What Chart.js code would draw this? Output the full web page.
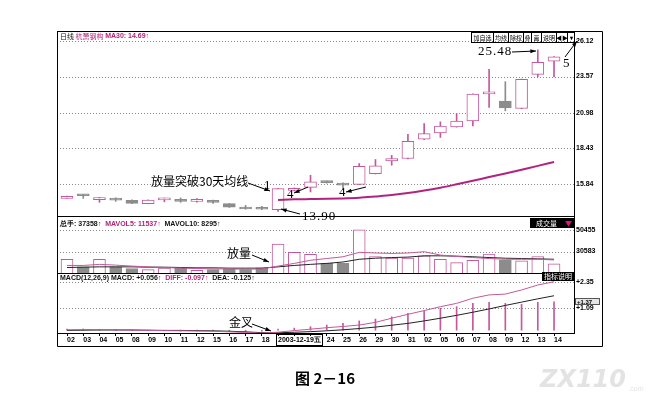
<!DOCTYPE html>
<html>
<head>
<meta charset="utf-8">
<script src="https://cdn.jsdelivr.net/npm/chart.js@4.4.0/dist/chart.umd.min.js"></script>
<style>
  html, body { margin: 0; padding: 0; background: #fff; }
  #box { position: relative; width: 651px; height: 404px; }
</style>
</head>
<body>
<div id="box"><canvas id="kline"></canvas></div>
<script>
// 交易日（横轴）
var dates = ['02','03','04','05','08','09','10','11','12','15','16','17','18','2003-12-19五','22','23','24','25','26','29','30','31','02','05','06','07','08','09','12','13','14'];

// K线
var opens  = [14.83,15.04,14.74,14.81,14.69,14.45,14.72,14.76,14.62,14.64,14.45,14.10,14.08,14.02,15.40,15.62,16.00,15.93,15.84,16.61,17.52,17.69,19.07,19.53,19.96,20.39,22.33,21.81,21.28,23.73,24.68];
var closes = [14.98,15.02,14.77,14.71,14.47,14.71,14.77,14.62,14.75,14.54,14.20,14.07,14.05,15.53,15.55,16.02,15.96,15.78,17.13,17.16,17.69,18.93,19.48,20.01,20.37,22.31,22.38,21.32,23.37,24.59,24.99];
var highs  = [14.99,15.12,14.91,14.87,14.72,14.72,14.85,14.86,14.82,14.70,14.47,14.33,14.26,15.55,15.58,16.49,16.08,15.95,17.33,17.62,17.92,19.43,20.20,20.32,20.92,22.33,24.09,23.20,23.39,25.48,25.01];
var lows   = [14.82,14.83,14.55,14.62,14.45,14.44,14.58,14.55,14.55,14.47,14.18,14.05,14.02,13.90,15.36,15.29,15.92,15.46,15.82,16.58,17.21,17.66,19.05,19.20,19.94,20.03,21.35,21.11,21.26,23.55,23.55];
var ma30   = [null,null,null,null,null,null,null,null,null,null,null,null,null,14.72,14.76,14.78,14.80,14.83,14.88,14.97,15.07,15.21,15.39,15.60,15.84,16.09,16.36,16.62,16.89,17.16,17.44];

// 成交量
var volumes = [23400,16400,23400,16400,14900,13900,15200,15200,13300,13900,14500,13900,15500,37358,29800,27900,19600,19600,50500,26000,24400,24400,26600,23400,20300,22500,28200,22500,21900,26000,19300];
var mavol5  = [17700,17700,18700,18000,17100,16400,15800,15200,14900,14500,14500,14200,14500,17100,19600,22500,24100,25700,29800,29200,28800,29200,30400,27300,26000,25000,24100,23400,23400,23400,22800];
var mavol10 = [15800,16100,16400,16400,16400,16100,16100,15800,15500,15500,15200,15200,15200,16400,17700,18700,19600,20900,23400,24400,25000,25400,26600,26600,26300,25700,25000,24400,24100,23800,23400];

// MACD(12,26,9)
var diff = [0.02,0.03,0.03,0.02,0.00,-0.01,-0.02,-0.03,-0.04,-0.05,-0.08,-0.11,-0.14,-0.097,-0.02,0.05,0.12,0.18,0.25,0.38,0.58,0.77,0.95,1.14,1.30,1.55,1.71,1.75,1.95,2.19,2.35];
var dea  = [-0.01,0.00,0.01,0.01,0.01,0.00,-0.01,-0.01,-0.02,-0.03,-0.05,-0.08,-0.12,-0.125,-0.10,-0.07,-0.03,0.02,0.08,0.15,0.24,0.33,0.45,0.58,0.72,0.87,1.03,1.20,1.36,1.52,1.67];
var macd = [0.05,0.06,0.04,0.03,-0.02,-0.02,-0.02,-0.04,-0.04,-0.04,-0.06,-0.08,-0.05,0.056,0.10,0.17,0.25,0.33,0.45,0.54,0.65,0.82,0.93,1.06,1.14,1.30,1.35,1.30,1.26,1.35,1.37];

// 右侧刻度
var priceTicks = [15.84, 18.43, 20.98, 23.57, 26.12];
var volTicks = [30583, 50455];
var macdTicks = [1.09, 2.35];

var PINK = '#c4589c', MAG = '#b2237d', GRAY = '#8c8c8c', TXT = '#111';
var yFont = { family: '"Liberation Sans", Arial, sans-serif', size: 7, weight: 'bold' };
var xFont = { family: '"Liberation Sans", Arial, sans-serif', size: 7, weight: 'bold' };
var cjk = '"Noto Sans CJK SC", sans-serif';

function isUp(i) { return closes[i] >= opens[i]; }

var wickData = dates.map(function (d, i) { return { x: i, y: [lows[i], highs[i]] }; });
var bodyData = dates.map(function (d, i) { return { x: i, y: [Math.min(opens[i], closes[i]), Math.max(opens[i], closes[i])] }; });
var upColor = dates.map(function (d, i) { return isUp(i) ? PINK : GRAY; });
var upFill = dates.map(function (d, i) { return isUp(i) ? '#fff' : GRAY; });
function pts(arr) { return arr.map(function (v, i) { return { x: i, y: v }; }); }

function arrow(ctx, x1, y1, x2, y2) {
  var ang = Math.atan2(y2 - y1, x2 - x1), L = 6;
  ctx.beginPath();
  ctx.moveTo(x1, y1); ctx.lineTo(x2, y2); ctx.stroke();
  ctx.beginPath();
  ctx.moveTo(x2, y2);
  ctx.lineTo(x2 - L * Math.cos(ang - 0.35), y2 - L * Math.sin(ang - 0.35));
  ctx.lineTo(x2 - L * Math.cos(ang + 0.35), y2 - L * Math.sin(ang + 0.35));
  ctx.closePath(); ctx.fill();
}

function run(ctx, x, y, parts) {
  parts.forEach(function (p) {
    ctx.fillStyle = p[1];
    ctx.font = p[2];
    ctx.fillText(p[0], x, y);
    x += ctx.measureText(p[0]).width;
  });
}

var extras = {
  id: 'extras',
  beforeDatasetsDraw: function (chart) {
    var ctx = chart.ctx, a = chart.chartArea;
    ctx.save();
    ctx.strokeStyle = '#8a8a8a'; ctx.lineWidth = 1; ctx.setLineDash([1, 2]);
    [['yP', priceTicks], ['yV', volTicks], ['yM', macdTicks]].forEach(function (p) {
      var s = chart.scales[p[0]];
      p[1].forEach(function (v) {
        var y = Math.round(s.getPixelForValue(v)) + 0.5;
        ctx.beginPath(); ctx.moveTo(a.left, y); ctx.lineTo(a.right, y); ctx.stroke();
      });
    });
    ctx.restore();
  },
  afterDraw: function (chart) {
    var ctx = chart.ctx, a = chart.chartArea, sc = chart.scales;
    var outerR = 602.5, outerB = 346.5;
    ctx.save();
    // 边框
    ctx.strokeStyle = '#000'; ctx.lineWidth = 1;
    ctx.strokeRect(a.left + 0.5, a.top + 0.5, a.right - a.left, a.bottom - a.top);
    ctx.beginPath();
    ctx.moveTo(a.left + 0.5, a.bottom); ctx.lineTo(a.left + 0.5, outerB);
    ctx.lineTo(outerR, outerB); ctx.lineTo(outerR, a.top + 0.5); ctx.lineTo(a.right, a.top + 0.5);
    [sc.yP.bottom, sc.yV.bottom].forEach(function (y) {
      y = Math.round(y) + 0.5;
      ctx.moveTo(a.left, y); ctx.lineTo(a.right, y);
    });
    ctx.stroke();

    // 十字光标日期
    var xs = sc.x.getPixelForValue(13);
    ctx.font = 'bold 7px "Liberation Sans", Arial, sans-serif';
    var w = ctx.measureText(dates[13]).width;
    ctx.strokeRect(Math.round(xs) - 1.5, a.bottom + 1.5, Math.round(w) + 3, 11);

    // 标题行
    ctx.textBaseline = 'middle';
    var sm = '7px ' + cjk, smb = 'bold 7px "Liberation Sans", Arial, sans-serif';
    run(ctx, a.left + 3, a.top + 5, [['日线 ', TXT, sm], ['杭萧钢构 ', MAG, sm], ['MA30: 14.69↑', MAG, smb]]);
    run(ctx, a.left + 3, sc.yV.top + 8, [['总手: 37358↑  ', TXT, smb], ['MAVOL5: 11537↑  ', MAG, smb], ['MAVOL10: 8295↑', TXT, smb]]);
    run(ctx, a.left + 3, sc.yM.top + 5, [['MACD(12,26,9) MACD: +0.056↑  ', TXT, smb], ['DIFF: -0.097↑  ', MAG, smb], ['DEA: -0.125↑', TXT, smb]]);

    // 右上按钮
    var btns = [[471, 493, '加自选'], [493, 508, '均线'], [508, 523, '除权'], [523, 531, '叠'], [531, 541, '画'], [541, 556, '说明'], [556, 567, '◀▶'], [567, 574, '▾']];
    btns.forEach(function (b, i) {
      ctx.strokeStyle = '#000';
      ctx.strokeRect(b[0] + 0.5, a.top + 1.5, b[1] - b[0], 10);
      ctx.fillStyle = '#000';
      ctx.font = (i >= 6 ? 'bold 6px ' : '6px ') + cjk;
      ctx.textAlign = 'center';
      ctx.fillText(b[2], (b[0] + b[1]) / 2 + 0.5, a.top + 7);
    });
    ctx.textAlign = 'left';

    // 成交量 / 指标说明 黑框
    ctx.fillStyle = '#000';
    ctx.fillRect(530, sc.yV.top + 2, 44, 10);
    ctx.fillRect(542, sc.yM.top - 1, 32, 9);
    ctx.fillStyle = '#fff'; ctx.font = '7px ' + cjk;
    ctx.fillText('成交量', 536, sc.yV.top + 7);
    ctx.fillText('指标说明', 544, sc.yM.top + 3.5);
    ctx.fillStyle = '#e0157e'; ctx.fillText('▼', 565, sc.yV.top + 7);

    // 当前 MACD 值
    var y137 = Math.round(sc.yM.getPixelForValue(1.37));
    ctx.fillStyle = '#e6e6e6'; ctx.fillRect(a.right + 1, y137 - 4, 25, 7);
    ctx.strokeStyle = '#555'; ctx.strokeRect(a.right + 1.5, y137 - 3.5, 24, 6);
    ctx.fillStyle = '#000'; ctx.font = 'bold 6px "Liberation Sans", Arial, sans-serif';
    ctx.fillText('+1.37', a.right + 3, y137);

    // 注释
    ctx.fillStyle = '#000'; ctx.strokeStyle = '#000'; ctx.lineWidth = 1;
    ctx.font = '12px ' + cjk;
    ctx.fillText('放量突破30天均线', 151, 181);
    arrow(ctx, 248, 183, 270, 191);
    ctx.fillText('放量', 227, 253);
    arrow(ctx, 252, 255, 269, 262);
    ctx.fillText('金叉', 229, 322);
    arrow(ctx, 252, 324, 271, 331);

    var ser = '13px "Liberation Serif", serif';
    ctx.font = ser;
    ctx.fillText('1', 264, 186);
    ctx.fillText('4', 287, 195);
    arrow(ctx, 308, 187, 294, 193);
    ctx.fillText('4', 339, 193);
    arrow(ctx, 366, 187, 346, 192);
    ctx.fillText('5', 563, 64);
    arrow(ctx, 565, 57, 577, 41);
    ctx.letterSpacing = '1px';
    ctx.fillText('13.90', 302, 217);
    arrow(ctx, 300, 214, 281, 209);
    ctx.fillText('25.48', 478, 52);
    arrow(ctx, 512, 52, 536, 51);
    ctx.letterSpacing = '0px';

    // 图题
    ctx.textAlign = 'center';
    ctx.font = 'bold 15px ' + cjk;
    ctx.fillText('图 2－16', 325, 378);

    // 水印
    ctx.font = 'bold italic 24px "DejaVu Sans", sans-serif';
    ctx.fillStyle = 'rgba(200,200,200,0.5)';
    ctx.fillText('ZX110', 583, 381);
    ctx.font = '7px sans-serif';
    ctx.fillText('.com', 636, 389);
    ctx.restore();
  }
};

new Chart(document.getElementById('kline'), {
  type: 'bar',
  data: {
    datasets: [
      { label: 'wick', data: wickData, yAxisID: 'yP', barThickness: 1, grouped: false, order: 5,
        backgroundColor: upColor, borderWidth: 0 },
      { label: 'body', data: bodyData, yAxisID: 'yP', barThickness: 12, grouped: false, order: 4,
        backgroundColor: upFill, borderColor: upColor, borderWidth: 1, borderSkipped: false, minBarLength: 2 },
      { type: 'line', label: 'MA30', data: pts(ma30), yAxisID: 'yP', borderColor: MAG, borderWidth: 2,
        pointRadius: 0, cubicInterpolationMode: 'monotone', order: 1 },
      { label: '成交量', data: pts(volumes), yAxisID: 'yV', barThickness: 12, grouped: false, order: 4,
        backgroundColor: upFill, borderColor: upColor, borderWidth: 1, borderSkipped: false },
      { type: 'line', label: 'MAVOL5', data: pts(mavol5), yAxisID: 'yV', borderColor: PINK, borderWidth: 1,
        pointRadius: 0, order: 1 },
      { type: 'line', label: 'MAVOL10', data: pts(mavol10), yAxisID: 'yV', borderColor: '#222', borderWidth: 1,
        pointRadius: 0, order: 1 },
      { label: 'MACD', data: pts(macd), yAxisID: 'yM', barThickness: 1, grouped: false, order: 4,
        backgroundColor: macd.map(function (v) { return v >= 0 ? PINK : GRAY; }) },
      { type: 'line', label: 'DIFF', data: pts(diff), yAxisID: 'yM', borderColor: PINK, borderWidth: 1,
        pointRadius: 0, order: 1 },
      { type: 'line', label: 'DEA', data: pts(dea), yAxisID: 'yM', borderColor: '#222', borderWidth: 1,
        pointRadius: 0, order: 1 }
    ]
  },
  options: {
    responsive: true,
    maintainAspectRatio: false,
    animation: false,
    layout: { padding: { left: 57, top: 31, right: 37, bottom: 58 } },
    plugins: { legend: { display: false }, tooltip: { enabled: false } },
    scales: {
      x: {
        type: 'linear', position: 'bottom', min: -0.616, max: 31.23, offset: false,
        afterBuildTicks: function (s) { s.ticks = dates.map(function (d, i) { return { value: i }; }); },
        afterFit: function (s) { s.height = 13; },
        ticks: {
          autoSkip: false, maxRotation: 0, align: 'start', padding: 0, color: '#000', font: xFont,
          callback: function (v) { return (v === 14 || v === 15) ? '' : dates[v]; }
        },
        grid: { offset: false, drawOnChartArea: false, drawTicks: true, tickLength: 3, color: '#000' },
        border: { display: false }
      },
      yP: {
        type: 'linear', position: 'right', stack: 'k', stackWeight: 185, min: 13.566, max: 26.837,
        afterBuildTicks: function (s) { s.ticks = priceTicks.map(function (v) { return { value: v }; }); },
        afterFit: function (s) { s.width = 40; },
        ticks: { padding: 2, color: '#000', font: yFont, callback: function (v) { return v.toFixed(2); } },
        grid: { display: false, drawTicks: false }, border: { display: false }
      },
      yV: {
        type: 'linear', position: 'right', stack: 'k', stackWeight: 57, min: 10723, max: 63391,
        afterBuildTicks: function (s) { s.ticks = volTicks.map(function (v) { return { value: v }; }); },
        afterFit: function (s) { s.width = 40; },
        ticks: { padding: 2, color: '#000', font: yFont, callback: function (v) { return String(v); } },
        grid: { display: false, drawTicks: false }, border: { display: false }
      },
      yM: {
        type: 'linear', position: 'right', stack: 'k', stackWeight: 60, min: -0.136, max: 2.772,
        afterBuildTicks: function (s) { s.ticks = macdTicks.map(function (v) { return { value: v }; }); },
        afterFit: function (s) { s.width = 40; },
        ticks: { padding: 2, color: '#000', font: yFont, callback: function (v) { return '+' + v.toFixed(2); } },
        grid: { display: false, drawTicks: false }, border: { display: false }
      }
    }
  },
  plugins: [extras]
});
</script>
</body>
</html>
